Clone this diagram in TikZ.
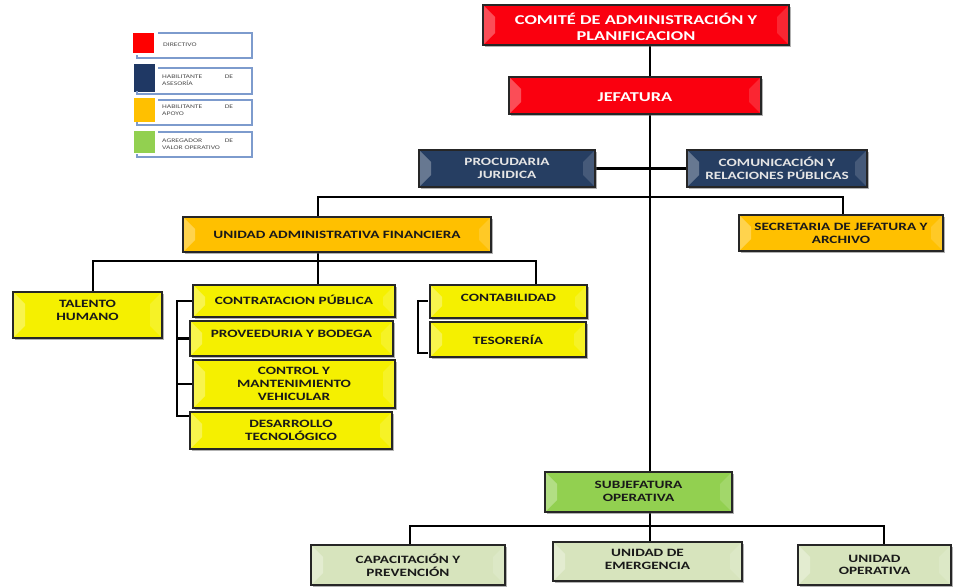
\documentclass[tikz,border=0pt]{standalone}
\usepackage{fontspec}
\setmainfont{Carlito}[FakeStretch=1.36]
\usetikzlibrary{shadows,calc,backgrounds}
\definecolor{cRed}{RGB}{250,0,15}
\definecolor{cNavy}{RGB}{38,62,98}
\definecolor{cOrange}{RGB}{255,192,0}
\definecolor{cYellow}{RGB}{245,240,0}
\definecolor{cGreen}{RGB}{146,208,80}
\definecolor{cOlive}{RGB}{215,228,189}
\definecolor{cLegLine}{RGB}{125,155,205}
\definecolor{cLegSqNavy}{RGB}{31,56,100}
\newcommand\orgbox[9]{%
  \node[#2, minimum width={(#5)-(#3)}, minimum height={(#6)-(#4)}] (#1) at ({((#3)+(#5))/2},{((#4)+(#6))/2}) {};
  \node[#7] (#1-t) at ([yshift=#9]#1.center) {#8};}
\begin{document}
\begin{tikzpicture}[x=1pt,y=-1pt,
  bevel/.style={path picture={
    \fill[white,opacity=.3] (path picture bounding box.north west) -- ([xshift=12pt,yshift=-12pt]path picture bounding box.north west) -- ([xshift=12pt,yshift=12pt]path picture bounding box.south west) -- (path picture bounding box.south west) -- cycle;
    \fill[white,opacity=.15] (path picture bounding box.north east) -- ([xshift=-12pt,yshift=-12pt]path picture bounding box.north east) -- ([xshift=-12pt,yshift=12pt]path picture bounding box.south east) -- (path picture bounding box.south east) -- cycle;}},
  orgbase/.style={draw=black!85, line width=1.6pt, inner sep=0pt, outer sep=0pt,
    drop shadow={shadow xshift=2pt,shadow yshift=-2pt,fill=black!60,opacity=.5}, bevel},
  redbox/.style={orgbase, fill=cRed},
  navybox/.style={orgbase, fill=cNavy},
  orangebox/.style={orgbase, fill=cOrange},
  yellowbox/.style={orgbase, fill=cYellow},
  greenbox/.style={orgbase, fill=cGreen},
  olivebox/.style={orgbase, fill=cOlive},
  txt/.style={font=\bfseries\fontsize{11.2}{12.8}\selectfont, align=center, inner sep=0pt},
  bigtxt/.style={txt, font=\bfseries\fontsize{13.5}{16}\selectfont, text=white},
  lighttxt/.style={txt, text=black!10},
  darktxt/.style={txt, text=black!90},
  conn/.style={line width=2.6pt, black, line cap=rect},
  legsq/.style={minimum width=21pt, minimum height=#1, inner sep=0pt},
  legline/.style={draw=cLegLine, line width=1.1pt},
  legtxt/.style={font=\fontsize{5.6}{7.5}\selectfont, text=black!70, anchor=west, inner sep=0pt, align=left}
]
\useasboundingbox (0,0) rectangle (954,588);

% ---------- legend ----------
\node[legsq=20pt, fill=red] (lg1) at (143.5,43) {};
\draw[legline] (158,33) -- (252,33) -- (252,58) -- (137,58) -- (137,55);
\node[legtxt] (lg1-t) at (163,45) {DIRECTIVO};

\node[legsq=28pt, fill=cLegSqNavy] (lg2) at (144,78) {};
\draw[legline] (158,68) -- (252,68) -- (252,94) -- (137,94) -- (137,91);
\node[legtxt] (lg2-t) at (162,80) {\parbox{71pt}{HABILITANTE\hfill DE\\ASESORÍA}};

\node[legsq=24pt, fill=cOrange] (lg3) at (144,110) {};
\draw[legline] (158,100) -- (252,100) -- (252,125) -- (137,125) -- (137,122);
\node[legtxt] (lg3-t) at (162,110) {\parbox{71pt}{HABILITANTE\hfill DE\\APOYO}};

\node[legsq=22pt, fill=cGreen] (lg4) at (144,142) {};
\draw[legline] (158,132) -- (252,132) -- (252,157) -- (137,157) -- (137,154);
\node[legtxt] (lg4-t) at (162,144) {\parbox{71pt}{AGREGADOR\hfill DE\\VALOR OPERATIVO}};

% ---------- coordinates for connectors ----------
\coordinate (spine) at (650,0);
\coordinate (b1) at (318,197);
\coordinate (b2) at (843,197);
\coordinate (c1) at (93,261);
\coordinate (c2) at (318,261);
\coordinate (c3) at (536,261);
\coordinate (k) at (177,0);
\coordinate (r1) at (427,301);
\coordinate (r2) at (427,353);
\coordinate (s1) at (410,526);
\coordinate (s3) at (884,526);

% ---------- boxes ----------
\orgbox{comite}{redbox}{483}{5}{789}{45}{bigtxt}{COMITÉ DE ADMINISTRACIÓN Y\\PLANIFICACION}{-2pt}
\orgbox{jefatura}{redbox}{509}{77}{761}{114}{bigtxt}{JEFATURA}{-1.5pt}
\orgbox{proc}{navybox}{419}{150}{595}{187}{lighttxt}{PROCUDARIA\\JURIDICA}{0pt}
\orgbox{comu}{navybox}{687}{150}{867}{187}{lighttxt}{COMUNICACIÓN Y\\RELACIONES PÚBLICAS}{0pt}
\orgbox{uaf}{orangebox}{183}{217}{491}{252}{darktxt}{UNIDAD ADMINISTRATIVA FINANCIERA}{0pt}
\orgbox{sec}{orangebox}{739}{215}{943}{251}{darktxt}{SECRETARIA DE JEFATURA Y\\ARCHIVO}{0pt}
\orgbox{talento}{yellowbox}{13}{292}{162}{338}{darktxt}{TALENTO\\HUMANO}{5pt}
\orgbox{contrat}{yellowbox}{193}{285}{395}{317}{darktxt}{CONTRATACION PÚBLICA}{1pt}
\orgbox{prov}{yellowbox}{190}{321}{393}{356}{darktxt}{PROVEEDURIA Y BODEGA}{5pt}
\orgbox{ctrl}{yellowbox}{193}{360}{395}{408}{darktxt}{CONTROL Y\\MANTENIMIENTO\\VEHICULAR}{0pt}
\orgbox{desa}{yellowbox}{190}{412}{392}{449}{darktxt}{DESARROLLO\\TECNOLÓGICO}{0pt}
\orgbox{contab}{yellowbox}{430}{285}{587}{318}{darktxt}{CONTABILIDAD}{4pt}
\orgbox{teso}{yellowbox}{430}{322}{586}{357}{darktxt}{TESORERÍA}{0pt}
\orgbox{sub}{greenbox}{545}{472}{732}{512}{darktxt}{SUBJEFATURA\\OPERATIVA}{1pt}
\orgbox{cap}{olivebox}{311}{545}{505}{585}{darktxt}{CAPACITACIÓN Y\\PREVENCIÓN}{0pt}
\orgbox{emer}{olivebox}{553}{542}{742}{581}{darktxt}{UNIDAD DE\\EMERGENCIA}{2pt}
\orgbox{uop}{olivebox}{798}{545}{951}{585}{darktxt}{UNIDAD\\OPERATIVA}{0pt}

% ---------- connectors (under the boxes) ----------
\begin{pgfonlayer}{background}
\draw[conn] (comite.south -| spine) -- (jefatura.north -| spine);
\draw[conn] (jefatura.south -| spine) -- (sub.north -| spine);
\draw[conn] (proc.east) -- (comu.west);
\draw[conn] (uaf.north -| b1) |- (b2) -- (sec.north -| b2);
\draw[conn] (talento.north -| c1) |- (c3) -- (contab.north -| c3);
\draw[conn] (uaf.south -| c2) -- (contrat.north -| c2);
\draw[conn] (contrat.west) -| ([yshift=-4pt]desa.north west -| k) -- ([yshift=-4pt]desa.north west);
\draw[conn] (prov.west) -- (prov.west -| k);
\draw[conn] (ctrl.west) -- (ctrl.west -| k);
\draw[conn] (r1) -- ++(-9,0) |- (r2);
\draw[conn] (cap.north -| s1) |- (s3) -- (uop.north -| s3);
\draw[conn] (sub.south -| spine) -- (emer.north -| spine);
\end{pgfonlayer}
\end{tikzpicture}
\end{document}
